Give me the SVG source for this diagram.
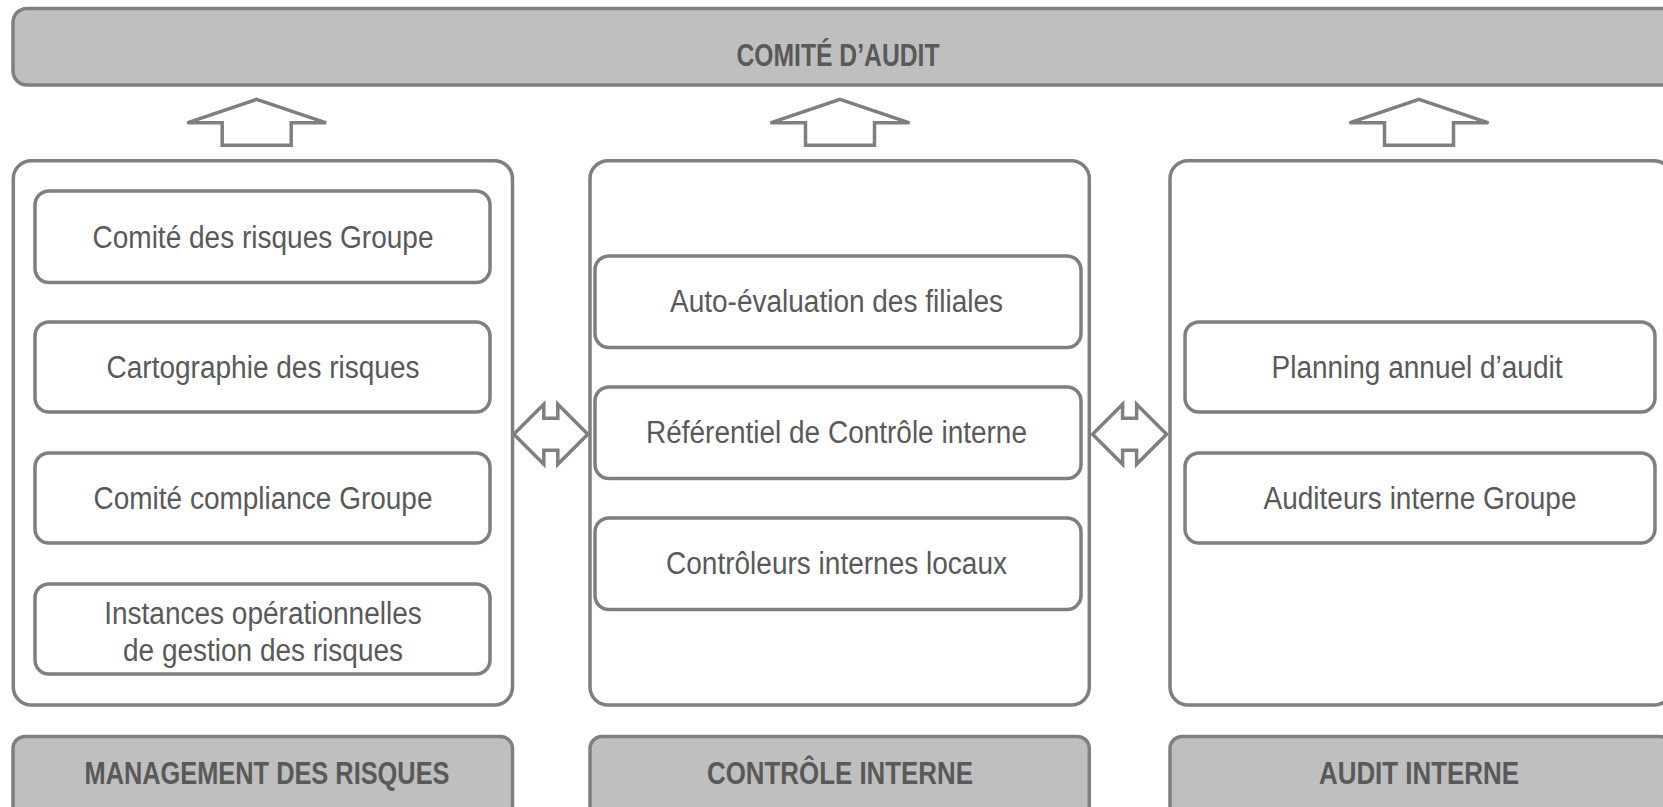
<svg xmlns="http://www.w3.org/2000/svg" width="1663" height="807" viewBox="0 0 1663 807">
<style>
.bar{fill:#bfbfbf;stroke:#7f7f7f;stroke-width:3.5}
.panel{fill:#fff;stroke:#7f7f7f;stroke-width:3.5}
.box{fill:#fff;stroke:#7f7f7f;stroke-width:3.5}
.arrow{fill:#fff;stroke:#7f7f7f;stroke-width:3.5;stroke-linejoin:miter}
.t{font-family:"Liberation Sans",Arial,sans-serif;font-size:31px;fill:#595959;text-anchor:middle}
.b{font-family:"Liberation Sans Narrow","Liberation Sans",Arial,sans-serif;font-size:31px;font-weight:bold;fill:#595959;text-anchor:middle}
</style>
<rect width="1663" height="807" fill="#fff"/>
<g id="comite-audit">
<rect class="bar" x="13" y="8.5" width="1670" height="76.5" rx="14"/>
<text class="b" x="838" y="66" textLength="203" lengthAdjust="spacingAndGlyphs">COMITÉ D’AUDIT</text>
</g>
<g id="management-risques">
<rect class="panel" x="13.3" y="160.7" width="499.2" height="544.3" rx="18"/>
<g id="n-comite-risques"><rect class="box" x="35" y="191" width="455" height="91.5" rx="14"/><text class="t" x="263" y="247.5" textLength="341" lengthAdjust="spacingAndGlyphs">Comité des risques Groupe</text></g>
<g id="n-cartographie"><rect class="box" x="35" y="322" width="455" height="90" rx="14"/><text class="t" x="263" y="377.5" textLength="313" lengthAdjust="spacingAndGlyphs">Cartographie des risques</text></g>
<g id="n-comite-compliance"><rect class="box" x="35" y="453" width="455" height="90" rx="14"/><text class="t" x="263" y="508.5" textLength="339" lengthAdjust="spacingAndGlyphs">Comité compliance Groupe</text></g>
<g id="n-instances"><rect class="box" x="35" y="584" width="455" height="90" rx="14"/><text class="t" x="263" y="624" textLength="317.5" lengthAdjust="spacingAndGlyphs">Instances opérationnelles</text><text class="t" x="263" y="661" textLength="280" lengthAdjust="spacingAndGlyphs">de gestion des risques</text></g>
</g>
<g id="controle-interne">
<rect class="panel" x="590" y="160.7" width="499.3" height="544.3" rx="18"/>
<g id="n-auto-evaluation"><rect class="box" x="595" y="256" width="486" height="91.5" rx="14"/><text class="t" x="836.5" y="312" textLength="333" lengthAdjust="spacingAndGlyphs">Auto-évaluation des filiales</text></g>
<g id="n-referentiel"><rect class="box" x="595" y="387" width="486" height="91.5" rx="14"/><text class="t" x="836.5" y="443" textLength="381" lengthAdjust="spacingAndGlyphs">Référentiel de Contrôle interne</text></g>
<g id="n-controleurs"><rect class="box" x="595" y="518" width="486" height="91.5" rx="14"/><text class="t" x="836.5" y="574" textLength="341" lengthAdjust="spacingAndGlyphs">Contrôleurs internes locaux</text></g>
</g>
<g id="audit-interne">
<rect class="panel" x="1170" y="160.7" width="502" height="544.3" rx="18"/>
<g id="n-planning"><rect class="box" x="1185" y="322" width="470" height="90" rx="14"/><text class="t" x="1417" y="377.5" textLength="291" lengthAdjust="spacingAndGlyphs">Planning annuel d’audit</text></g>
<g id="n-auditeurs"><rect class="box" x="1185" y="453" width="470" height="90" rx="14"/><text class="t" x="1420" y="508.5" textLength="313" lengthAdjust="spacingAndGlyphs">Auditeurs interne Groupe</text></g>
</g>
<g id="label-management">
<rect class="bar" x="13" y="736.5" width="499.5" height="90" rx="12"/>
<text class="b" x="267" y="784" textLength="365" lengthAdjust="spacingAndGlyphs">MANAGEMENT DES RISQUES</text>
</g>
<g id="label-controle">
<rect class="bar" x="590" y="736.5" width="499.3" height="90" rx="12"/>
<text class="b" x="840" y="784" textLength="266" lengthAdjust="spacingAndGlyphs">CONTRÔLE INTERNE</text>
</g>
<g id="label-audit">
<rect class="bar" x="1170" y="736.5" width="502" height="90" rx="12"/>
<text class="b" x="1419" y="784" textLength="200" lengthAdjust="spacingAndGlyphs">AUDIT INTERNE</text>
</g>
<g id="connectors">
<path id="up-1" class="arrow" transform="translate(256.7,99.3)" d="M0,0 L69.5,23.5 L34.5,23.5 L34.5,46 L-34.5,46 L-34.5,23.5 L-69.5,23.5 Z"/>
<path id="up-2" class="arrow" transform="translate(840,99.3)" d="M0,0 L69.5,23.5 L34.5,23.5 L34.5,46 L-34.5,46 L-34.5,23.5 L-69.5,23.5 Z"/>
<path id="up-3" class="arrow" transform="translate(1419,99.3)" d="M0,0 L69.5,23.5 L34.5,23.5 L34.5,46 L-34.5,46 L-34.5,23.5 L-69.5,23.5 Z"/>
<path id="lr-1" class="arrow" transform="translate(550.8,434.3)" d="M-37,0 L-7,-30 L-7,-16 L7,-16 L7,-30 L37,0 L7,30 L7,16 L-7,16 L-7,30 Z"/>
<path id="lr-2" class="arrow" transform="translate(1129.6,434.3)" d="M-37,0 L-7,-30 L-7,-16 L7,-16 L7,-30 L37,0 L7,30 L7,16 L-7,16 L-7,30 Z"/>
</g>
</svg>
